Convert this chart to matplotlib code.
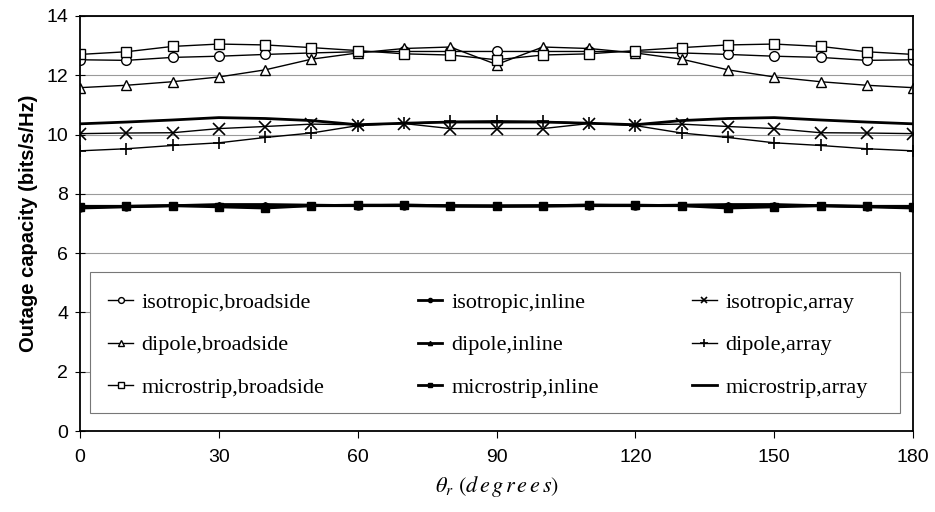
import matplotlib.pyplot as plt
from matplotlib.patches import Rectangle
import numpy as np

plt.rcParams['mathtext.fontset'] = 'stix'

theta = np.arange(0, 181, 10)

# half curves (0..90), mirrored for 100..180
def mirror(half):
    return half + half[-2::-1]

iso_broad = mirror([12.52, 12.50, 12.60, 12.64, 12.70, 12.75, 12.79, 12.80, 12.80, 12.80])
dip_broad = mirror([11.58, 11.66, 11.78, 11.94, 12.18, 12.54, 12.75, 12.90, 12.95, 12.36])
mic_broad = mirror([12.70, 12.79, 12.97, 13.05, 13.02, 12.93, 12.83, 12.72, 12.68, 12.52])

iso_inline = [7.52, 7.56, 7.60, 7.60, 7.58, 7.60, 7.60, 7.60, 7.58, 7.58,
              7.58, 7.60, 7.60, 7.60, 7.58, 7.60, 7.60, 7.56, 7.52]
dip_inline = [7.58, 7.58, 7.60, 7.64, 7.64, 7.62, 7.60, 7.62, 7.60, 7.60,
              7.60, 7.62, 7.60, 7.62, 7.64, 7.64, 7.60, 7.58, 7.58]
mic_inline = [7.55, 7.58, 7.60, 7.56, 7.52, 7.60, 7.62, 7.62, 7.60, 7.58,
              7.60, 7.62, 7.62, 7.60, 7.52, 7.56, 7.60, 7.58, 7.55]

iso_array = mirror([10.03, 10.05, 10.06, 10.20, 10.27, 10.35, 10.33, 10.37, 10.20, 10.20])
dip_array = mirror([9.45, 9.52, 9.63, 9.72, 9.90, 10.05, 10.30, 10.38, 10.44, 10.46])
mic_array = mirror([10.36, 10.42, 10.49, 10.57, 10.54, 10.47, 10.33, 10.38, 10.42, 10.42])

fig = plt.figure(figsize=(9.35, 5.12), dpi=100)
ax = fig.add_axes([0.0856, 0.158, 0.891, 0.811])

ax.plot(theta, iso_broad, '-o', color='black', lw=1.0, ms=7, mfc='white', mew=1.0,
        label='isotropic,broadside')
ax.plot(theta, dip_broad, '-^', color='black', lw=1.0, ms=7, mfc='white', mew=1.0,
        label='dipole,broadside')
ax.plot(theta, mic_broad, '-s', color='black', lw=1.0, ms=7, mfc='white', mew=1.0,
        label='microstrip,broadside')
ax.plot(theta, iso_inline, '-o', color='black', lw=2.0, ms=5, label='isotropic,inline')
ax.plot(theta, dip_inline, '-^', color='black', lw=2.0, ms=5, label='dipole,inline')
ax.plot(theta, mic_inline, '-s', color='black', lw=2.0, ms=6, label='microstrip,inline')
ax.plot(theta, iso_array, '-x', color='black', lw=1.0, ms=8, mew=1.2, label='isotropic,array')
ax.plot(theta, dip_array, '-+', color='black', lw=1.0, ms=9, mew=1.2, label='dipole,array')
ax.plot(theta, mic_array, '-', color='black', lw=2.0, label='microstrip,array')

ax.set_xlim(0, 180)
ax.set_ylim(0, 14)
ax.set_xticks(np.arange(0, 181, 30))
ax.set_yticks(np.arange(0, 15, 2))
ax.yaxis.grid(True, color='#9a9a9a', lw=0.8)
ax.set_axisbelow(True)
ax.tick_params(axis='x', direction='out', length=5, labelsize=14, pad=8)
ax.tick_params(axis='y', direction='inout', length=7, labelsize=14, pad=5)
for lab in ax.get_xticklabels() + ax.get_yticklabels():
    lab.set_fontfamily('Liberation Sans')
for sp in ax.spines.values():
    sp.set_linewidth(1.3)

ax.set_ylabel('Outage capacity (bits/s/Hz)', fontsize=14.5, fontweight='bold',
              fontfamily='Liberation Sans', labelpad=6)
ax.set_xlabel(r'$\theta_r\ (d\,e\,g\,r\,e\,e\,s)$', fontsize=16, labelpad=6)

# legend frame drawn separately (wider than its contents)
ax.add_patch(Rectangle((0.012, 0.0433), 0.9724, 0.3395, transform=ax.transAxes,
                       facecolor='white', edgecolor='#777777', lw=0.8, zorder=4))

handles, labels = ax.get_legend_handles_labels()
leg = ax.legend(handles, labels, ncol=3, loc='upper left',
                bbox_to_anchor=(0.034, 0.335),
                prop={'family': 'Liberation Serif', 'size': 16},
                markerscale=0.6, handlelength=1.1, handletextpad=0.4,
                labelspacing=1.0, borderpad=0.0, borderaxespad=0.0,
                columnspacing=4.2, frameon=False)
leg.set_zorder(5)

fig.savefig('out.png', dpi=100)
